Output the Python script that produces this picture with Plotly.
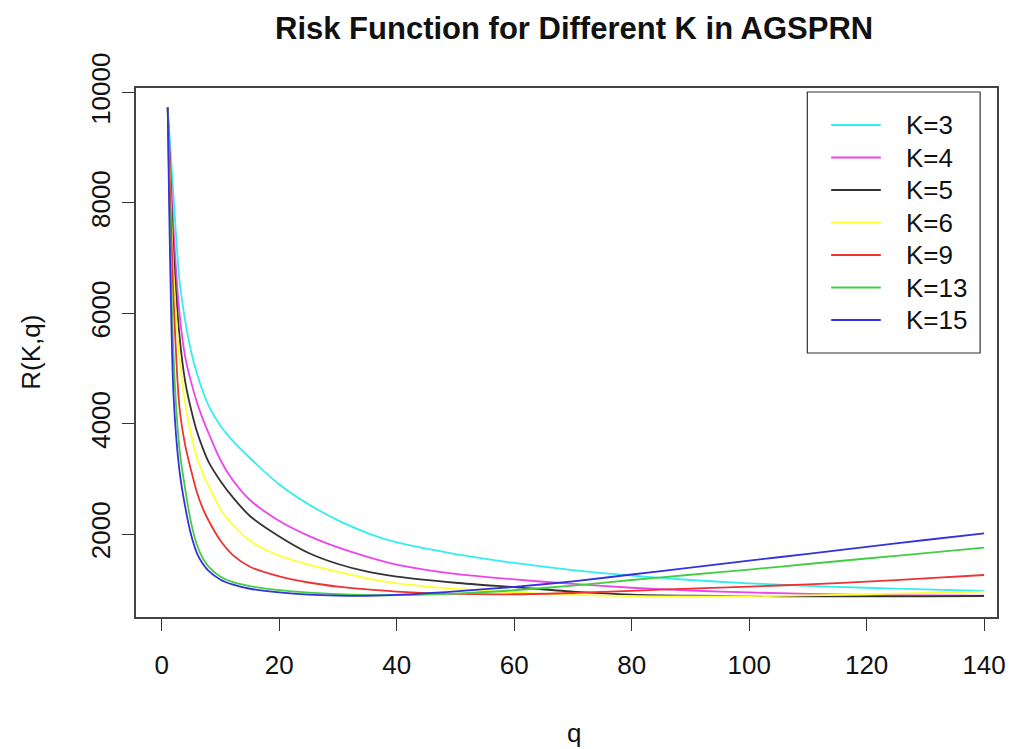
import plotly.graph_objects as go

q = [1, 2, 3, 4, 5, 6, 7, 8, 10, 12, 15, 20, 25, 30, 35, 40, 50, 60, 70, 80, 90, 100, 110, 120, 130, 140]

k3 = [9730, 8100, 6600, 5850, 5300, 4900, 4580, 4320, 3960, 3700, 3380, 2900, 2540, 2250, 2020, 1850, 1640, 1480, 1350, 1250, 1170, 1110, 1065, 1030, 1000, 971]
k4 = [9730, 7500, 6000, 5200, 4750, 4380, 4080, 3820, 3340, 2990, 2620, 2240, 1970, 1760, 1590, 1450, 1280, 1180, 1100, 1030, 980, 945, 920, 900, 890, 886]
k5 = [9730, 7100, 5600, 4750, 4250, 3850, 3550, 3300, 2960, 2680, 2330, 1960, 1660, 1460, 1320, 1230, 1120, 1040, 960, 905, 885, 878, 873, 872, 875, 880]
k6 = [9730, 6700, 5200, 4350, 3800, 3380, 3100, 2870, 2450, 2180, 1880, 1610, 1450, 1320, 1200, 1110, 1010, 945, 900, 878, 872, 878, 892, 912, 935, 958]
k9 = [9730, 6250, 4300, 3600, 3150, 2750, 2460, 2240, 1880, 1630, 1410, 1235, 1125, 1050, 1000, 960, 918, 912, 935, 975, 1015, 1050, 1092, 1140, 1198, 1261]
k13 = [9730, 5200, 3550, 2800, 2200, 1800, 1560, 1410, 1230, 1135, 1060, 985, 940, 912, 898, 895, 925, 985, 1070, 1170, 1265, 1360, 1460, 1560, 1658, 1755]
k15 = [9730, 4500, 3150, 2480, 1980, 1650, 1460, 1330, 1175, 1090, 1012, 945, 905, 888, 885, 900, 965, 1045, 1145, 1270, 1395, 1520, 1645, 1770, 1895, 2016]

series_names = ["K=3", "K=4", "K=5", "K=6", "K=9", "K=13", "K=15"]
series_vals = [k3, k4, k5, k6, k9, k13, k15]
colors = ["#33EEEE", "#EE44EE", "#333333", "#FFFF33", "#EE3333", "#44CC44", "#3333DD"]

x_ticks = [0, 20, 40, 60, 80, 100, 120, 140]
y_ticks = [2000, 4000, 6000, 8000, 10000]

W, H = 1018, 749
L, R, T, B = 136, 1003, 88, 617
FONT = "Liberation Sans, Arial, Helvetica, sans-serif"

def px(xp):
    return (xp - L) / (R - L)

def py(yp):
    return (B - yp) / (B - T)

fig = go.Figure()
for name, vals, col in zip(series_names, series_vals, colors):
    fig.add_trace(go.Scatter(x=q, y=vals, mode="lines", name=name,
                             line=dict(color=col, width=1.8, shape="spline", smoothing=0.8),
                             showlegend=False))

fig.update_layout(
    width=W, height=H,
    margin=dict(l=L, r=W - R, t=T, b=H - B, pad=0),
    paper_bgcolor="white", plot_bgcolor="white",
    font=dict(family=FONT, size=26, color="#111111"),
    xaxis=dict(range=[-4.4, 142.2], tickvals=x_ticks, ticktext=[str(v) for v in x_ticks],
               showgrid=False, zeroline=False, showline=True, mirror=True,
               linecolor="#444444", linewidth=1.5, ticks="outside", ticklen=12,
               tickwidth=1.2, tickcolor="#333333", ticklabelstandoff=12),
    yaxis=dict(range=[500, 10083], tickvals=y_ticks, ticktext=[str(v) for v in y_ticks],
               showgrid=False, zeroline=False, showline=True, mirror=True,
               linecolor="#444444", linewidth=1.5, ticks="outside", ticklen=12,
               tickwidth=1.2, tickcolor="#333333", tickangle=-90, ticklabelstandoff=2),
)

annotations = [
    dict(text="<b>Risk Function for Different K in AGSPRN</b>", x=px(577), y=py(28),
         xref="paper", yref="paper", xanchor="center", yanchor="middle",
         showarrow=False, font=dict(size=31, family=FONT, color="#111111")),
    dict(text="q", x=px(577), y=py(733), xref="paper", yref="paper",
         xanchor="center", yanchor="middle", showarrow=False, font=dict(size=26)),
    dict(text="R(K,q)", x=px(30), y=py(352), xref="paper", yref="paper",
         xanchor="center", yanchor="middle", showarrow=False, textangle=-90,
         font=dict(size=26)),
]

shapes = [dict(type="rect", xref="paper", yref="paper", x0=px(812), x1=px(986),
               y0=py(353), y1=py(92), line=dict(color="#333333", width=1.2),
               fillcolor="white", layer="above")]
row0, dy = 125, 32.5
for i, (name, col) in enumerate(zip(series_names, colors)):
    yy = row0 + i * dy
    shapes.append(dict(type="line", xref="paper", yref="paper", x0=px(836), x1=px(886),
                       y0=py(yy), y1=py(yy), line=dict(color=col, width=1.8), layer="above"))
    annotations.append(dict(text=name, x=px(909), y=py(yy), xref="paper", yref="paper",
                            xanchor="left", yanchor="middle", showarrow=False,
                            font=dict(size=26)))

fig.update_layout(annotations=annotations, shapes=shapes)
fig.write_html("out.html", config={"displayModeBar": False},
               post_script="document.body.style.margin='0';document.body.style.overflow='hidden';")
